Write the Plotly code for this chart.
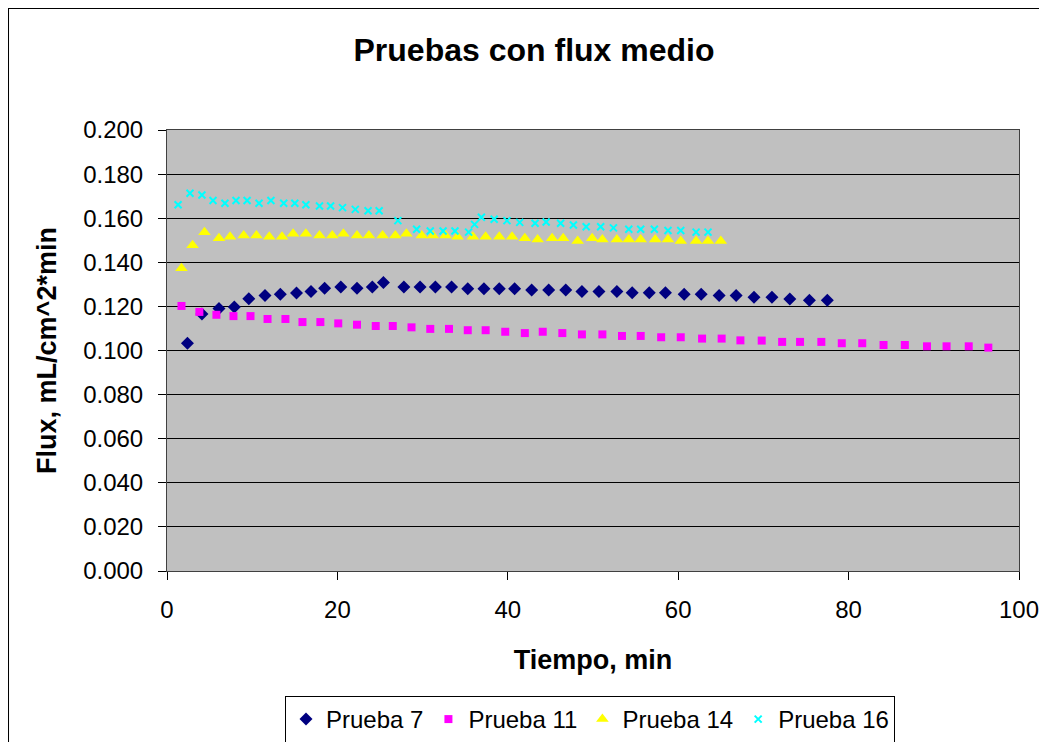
import plotly.graph_objects as go

# Prueba 7
t7 = [2.4, 4.1, 6.1, 7.9, 9.6, 11.5, 13.3, 15.2, 16.9, 18.5, 20.4, 22.3, 24.1, 25.4,
      27.8, 29.7, 31.5, 33.4, 35.3, 37.2, 39.0, 40.8, 42.8, 44.8, 46.8, 48.7, 50.7,
      52.8, 54.6, 56.6, 58.5, 60.7, 62.7, 64.8, 66.8, 68.9, 71.0, 73.1, 75.4, 77.5]
f7 = [0.1033, 0.1166, 0.1191, 0.1197, 0.1235, 0.1249, 0.1255, 0.1261, 0.1268, 0.1282,
      0.1288, 0.1282, 0.1288, 0.1308, 0.1288, 0.1288, 0.1288, 0.1288, 0.1280, 0.1280,
      0.1280, 0.1280, 0.1274, 0.1274, 0.1274, 0.1268, 0.1268, 0.1268, 0.1262, 0.1262,
      0.1262, 0.1255, 0.1255, 0.1249, 0.1249, 0.1241, 0.1241, 0.1234, 0.1228, 0.1228]

# Prueba 11
t11 = [1.7, 3.8, 5.8, 7.8, 9.8, 11.8, 13.9, 15.9, 18.0, 20.1, 22.3, 24.5, 26.5, 28.7,
       30.9, 33.1, 35.3, 37.4, 39.7, 42.0, 44.1, 46.4, 48.7, 51.1, 53.4, 55.6, 58.0,
       60.3, 62.8, 65.1, 67.3, 69.8, 72.2, 74.3, 76.8, 79.2, 81.6, 84.1, 86.6, 89.2,
       91.5, 94.1, 96.4]
f11 = [0.1202, 0.1175, 0.1162, 0.1156, 0.1156, 0.1143, 0.1143, 0.1129, 0.1129, 0.1123,
       0.1117, 0.1111, 0.1111, 0.1105, 0.1098, 0.1098, 0.1092, 0.1092, 0.1085, 0.1079,
       0.1085, 0.1079, 0.1073, 0.1073, 0.1066, 0.1066, 0.1060, 0.1060, 0.1054, 0.1054,
       0.1046, 0.1045, 0.1039, 0.1039, 0.1039, 0.1033, 0.1033, 0.1025, 0.1025, 0.1019,
       0.1019, 0.1019, 0.1013]

# Prueba 14
t14 = [1.7, 3.0, 4.4, 6.1, 7.4, 9.0, 10.5, 12.0, 13.5, 14.8, 16.3, 17.9, 19.4, 20.7,
       22.3, 23.7, 25.3, 26.8, 28.1, 29.9, 31.2, 32.7, 34.1, 35.9, 37.4, 39.0, 40.5,
       42.0, 43.5, 45.2, 46.5, 48.2, 49.9, 51.1, 52.8, 54.2, 55.6, 57.3, 58.8, 60.3,
       62.1, 63.5, 65.0]
f14 = [0.1373, 0.1477, 0.1536, 0.1509, 0.1516, 0.1522, 0.1522, 0.1516, 0.1516, 0.1530,
       0.1530, 0.1522, 0.1522, 0.1530, 0.1522, 0.1522, 0.1522, 0.1522, 0.1530, 0.1522,
       0.1522, 0.1522, 0.1516, 0.1516, 0.1516, 0.1516, 0.1516, 0.1509, 0.1503, 0.1509,
       0.1509, 0.1497, 0.1509, 0.1503, 0.1503, 0.1503, 0.1503, 0.1503, 0.1503, 0.1497,
       0.1497, 0.1497, 0.1497]

# Prueba 16
t16 = [1.3, 2.7, 4.1, 5.4, 6.8, 8.1, 9.4, 10.8, 12.2, 13.7, 15.0, 16.3, 17.9, 19.2,
       20.6, 22.1, 23.6, 24.9, 27.1, 29.3, 30.9, 32.4, 33.8, 35.4, 36.1, 36.9, 38.4,
       39.9, 41.4, 43.2, 44.5, 46.2, 47.7, 49.2, 50.9, 52.4, 54.2, 55.6, 57.2, 58.8,
       60.3, 62.1, 63.5]
f16 = [0.1661, 0.1713, 0.1705, 0.1680, 0.1668, 0.1680, 0.1680, 0.1668, 0.1680, 0.1668,
       0.1668, 0.1661, 0.1655, 0.1655, 0.1648, 0.1640, 0.1634, 0.1634, 0.1589, 0.1550,
       0.1542, 0.1542, 0.1542, 0.1537, 0.1572, 0.1604, 0.1595, 0.1589, 0.1581, 0.1577,
       0.1583, 0.1577, 0.1569, 0.1561, 0.1561, 0.1556, 0.1550, 0.1550, 0.1550, 0.1544,
       0.1544, 0.1537, 0.1537]

font = "Arial, Liberation Sans, sans-serif"

fig = go.Figure()

# Series markers, Excel-like
fig.add_trace(go.Scatter(x=t7, y=f7, mode="markers", name="Prueba 7",
                         marker={"symbol": "diamond", "size": 10, "color": "#000080"}))
fig.add_trace(go.Scatter(x=t11, y=f11, mode="markers", name="Prueba 11",
                         marker={"symbol": "square", "size": 8, "color": "#FF00FF"}))
fig.add_trace(go.Scatter(x=t14, y=f14, mode="markers", name="Prueba 14",
                         marker={"symbol": "triangle-up", "size": 11, "color": "#FFFF00"}))
fig.add_trace(go.Scatter(x=t16, y=f16, mode="markers", name="Prueba 16",
                         marker={"symbol": "x-thin", "size": 7, "color": "#00FFFF",
                                 "line": {"color": "#00FFFF", "width": 2}}))

# page body adds 8px, margins are compensated for it
fig.update_layout(
    width=1047,
    height=742,
    paper_bgcolor="white",
    plot_bgcolor="#C0C0C0",
    font={"family": font, "size": 24, "color": "black"},
    title={"text": "<b>Pruebas con flux medio</b>", "x": 0.5024, "xanchor": "center",
           "y": 0.943, "yanchor": "middle", "font": {"size": 32}},
    margin={"l": 159, "r": 36, "t": 122, "b": 179},
    xaxis={
        "title": {"text": "<b>Tiempo, min</b>", "standoff": 28, "font": {"size": 27}},
        "range": [0, 100], "dtick": 20, "showgrid": False, "zeroline": False,
        "ticks": "outside", "ticklen": 8, "tickcolor": "black",
        "ticklabelstandoff": 9, "automargin": False,
        "showline": True, "linecolor": "#404040", "linewidth": 1, "mirror": True,
    },
    yaxis={
        "title": {"text": "<b>Flux, mL/cm^2*min</b>", "standoff": 18, "font": {"size": 27}},
        "range": [0, 0.2], "dtick": 0.02, "tickformat": ".3f",
        "showgrid": True, "gridcolor": "black", "gridwidth": 1, "zeroline": False,
        "ticks": "outside", "ticklen": 8, "tickcolor": "black",
        "ticklabelstandoff": 10, "automargin": False,
        "showline": True, "linecolor": "#404040", "linewidth": 1, "mirror": True,
    },
    legend={
        "orientation": "h", "x": 0.4965, "xanchor": "center",
        "yref": "container", "y": 0.0728, "yanchor": "top",
        "bordercolor": "black", "borderwidth": 1, "font": {"size": 24},
        "itemsizing": "trace", "tracegroupgap": 0,
    },
    shapes=[{
        "type": "rect", "xref": "paper", "yref": "paper",
        "x0": -0.1866, "x1": 1.04, "y0": -0.45, "y1": 1.2766,
        "line": {"color": "black", "width": 2},
    }],
)

fig.write_html("out.html")
